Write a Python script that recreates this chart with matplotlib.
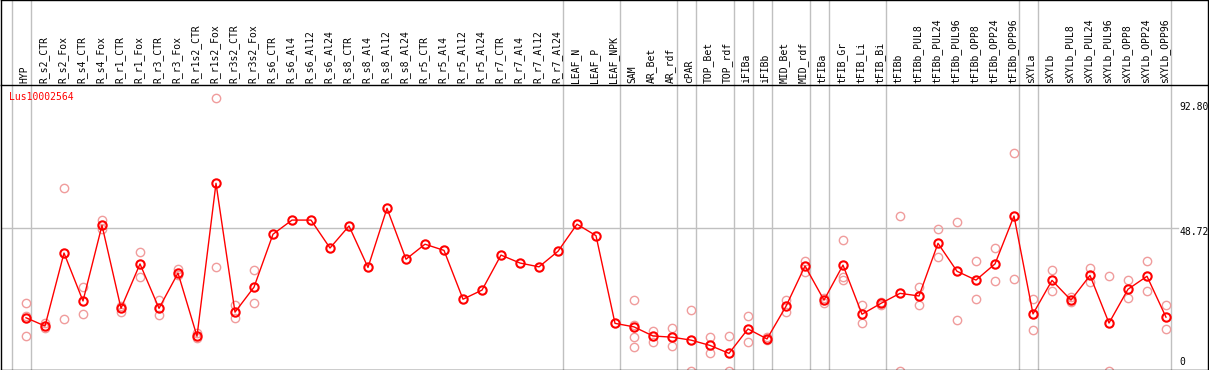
"""
Профиль экспрессии одного гена по образцам (точки повторов + среднее).
"""

import matplotlib

matplotlib.use("Agg")
import matplotlib.pyplot as plt

# Образцы (подписи колонок)
samples = [
    "HYP", "R_s2_CTR", "R_s2_Fox", "R_s4_CTR", "R_s4_Fox", "R_r1_CTR", "R_r1_Fox",
    "R_r3_CTR", "R_r3_Fox", "R_r1s2_CTR", "R_r1s2_Fox", "R_r3s2_CTR", "R_r3s2_Fox",
    "R_s6_CTR", "R_s6_Al4", "R_s6_Al12", "R_s6_Al24", "R_s8_CTR", "R_s8_Al4",
    "R_s8_Al12", "R_s8_Al24", "R_r5_CTR", "R_r5_Al4", "R_r5_Al12", "R_r5_Al24",
    "R_r7_CTR", "R_r7_Al4", "R_r7_Al12", "R_r7_Al24", "LEAF_N", "LEAF_P", "LEAF_NPK",
    "SAM", "AR_Bet", "AR_rdf", "cPAR", "TOP_Bet", "TOP_rdf", "iFIBa", "iFIBb",
    "MID_Bet", "MID_rdf", "tFIBa", "tFIB_Gr", "tFIB_Li", "tFIB_Bi", "tFIBb",
    "tFIBb_PUL8", "tFIBb_PUL24", "tFIBb_PUL96", "tFIBb_OPP8", "tFIBb_OPP24",
    "tFIBb_OPP96", "sXYLa", "sXYLb", "sXYLb_PUL8", "sXYLb_PUL24", "sXYLb_PUL96",
    "sXYLb_OPP8", "sXYLb_OPP24", "sXYLb_OPP96",
]

# Среднее значение экспрессии
expression = [
    18.2, 15.4, 40.2, 23.9, 49.6, 21.4, 36.5, 21.4, 33.4, 11.9, 63.9, 20.1, 28.6,
    46.6, 51.4, 51.4, 41.9, 49.4, 35.3, 55.4, 38.1, 43.2, 41.1, 24.5, 27.6,
    39.5, 36.8, 35.5, 40.8, 50.0, 46.1, 16.3,
    15.1, 12.0, 11.6, 10.6, 8.8, 6.1, 14.4, 11.0, 22.1, 35.8, 24.2, 36.1, 19.4,
    23.1, 26.5, 25.6, 43.5, 34.0, 31.0, 36.5, 52.8, 19.5, 30.9, 24.2, 32.6,
    16.4, 27.9, 32.3, 18.4,
]

# Значения отдельных повторов
replicates = [
    [23.1, 18.8, 12.0], [16.3, 14.6], [62.3, 17.8], [28.6, 19.4], [51.4, 48.4],
    [22.2, 20.3], [40.4, 32.0], [24.2, 19.0], [34.9, 32.6], [12.9, 11.2],
    [92.8, 35.3], [22.5, 18.0], [34.3, 23.1],
    [], [], [], [], [], [], [], [], [], [], [], [], [], [], [], [], [], [], [],
    [24.2, 15.7, 11.7, 8.3], [13.8, 9.9], [14.6, 8.6], [20.8, 0.0], [11.7, 6.1],
    [12.0, 0.0], [18.7, 9.9], [11.8, 10.6], [24.2, 20.3], [37.5, 33.9],
    [24.8, 23.3], [44.6, 32.2, 31.0], [22.5, 16.4], [23.7, 22.5], [52.8, 0.0],
    [28.6, 22.4], [48.3, 38.7], [50.6, 17.4], [37.4, 24.6], [41.9, 30.7],
    [74.2, 31.3], [24.6, 14.0], [34.4, 27.3], [25.2, 23.7], [35.1, 30.3],
    [32.3, 0.0], [31.0, 24.8], [37.4, 27.3], [22.4, 14.4],
]

# Последние колонки групп (после них вертикальные разделители)
group_ends = [-1, 0, 28, 31, 34, 35, 37, 38, 39, 41, 42, 45, 52, 53, 60]

gene_id = "Lus10002564"
y_marks = [92.80, 48.72, 0.0]
y_mark_labels = ["92.80", "48.72", "0"]

# Геометрия картинки в пикселях
W, H = 1209, 370
HEADER_PX = 85.0
LEFT_PX, RIGHT_PX, BOTTOM_PX = 1.0, 1208.0, 369.5
COL0_PX, COL_STEP_PX = 26.0, 19.0
ZERO_PX, PX_PER_UNIT = 371.3, 2.942

MONO = "DejaVu Sans Mono"
GRID = "#c0c0c0"


def px_to_col(px: float) -> float:
    """Пиксель по x -> координата колонки."""
    return (px - COL0_PX) / COL_STEP_PX


def py_to_val(py: float) -> float:
    """Пиксель по y -> значение экспрессии."""
    return (ZERO_PX - py) / PX_PER_UNIT


fig = plt.figure(figsize=(W / 100, H / 100), dpi=100)
ax_head = fig.add_axes(
    [LEFT_PX / W, 1 - HEADER_PX / H, (RIGHT_PX - LEFT_PX) / W, HEADER_PX / H]
)
ax = fig.add_axes(
    [LEFT_PX / W, (H - BOTTOM_PX) / H, (RIGHT_PX - LEFT_PX) / W, (BOTTOM_PX - HEADER_PX) / H]
)

xlim = (px_to_col(LEFT_PX), px_to_col(RIGHT_PX))
for a in (ax, ax_head):
    a.set_xlim(*xlim)
    a.set_xticks([])
    a.set_yticks([])
    for s in a.spines.values():
        s.set_color("black")
        s.set_linewidth(1.0)
ax_head.set_ylim(0, 1)
ax_head.spines["bottom"].set_visible(False)
ax.set_ylim(py_to_val(BOTTOM_PX), py_to_val(HEADER_PX))

# Разделители групп
for c in group_ends:
    for a in (ax, ax_head):
        a.axvline(c + 0.24, color=GRID, lw=1.0, zorder=0)

# Горизонтальная линия на среднем уровне
ax.axhline(y_marks[1], xmax=(1178 - LEFT_PX) / (RIGHT_PX - LEFT_PX), color=GRID, lw=1.0, zorder=0)

# Подписи образцов
for i, name in enumerate(samples):
    ax_head.text(
        i - 0.08,
        (HEADER_PX - 83.3) / HEADER_PX,
        name,
        rotation=90,
        ha="center",
        va="bottom",
        fontsize=7,
        family=MONO,
    )

# Повторы
rep_x = [i for i, reps in enumerate(replicates) for _ in reps]
rep_y = [v for reps in replicates for v in reps]
ax.plot(
    rep_x, rep_y, linestyle="none", marker="o", ms=6, mfc="none",
    mec="#f09c9c", mew=1.0, zorder=2,
)

# Среднее
ax.plot(
    range(len(samples)), expression, color="red", lw=1.0, marker="o", ms=6,
    mfc="none", mec="red", mew=1.5, zorder=3,
)

ax.text(
    px_to_col(9.3), py_to_val(96.7), gene_id, color="red",
    ha="left", va="center", fontsize=7, family=MONO,
)

# Подписи шкалы справа
label_shift = [-8.4, -3.7, 9.3]
for val, lab, dy in zip(y_marks, y_mark_labels, label_shift):
    ax.annotate(
        lab,
        xy=(px_to_col(1179), val),
        xytext=(0, dy),
        textcoords="offset pixels",
        ha="left",
        va="center",
        fontsize=7,
        family=MONO,
        annotation_clip=False,
    )

fig.savefig("out.png", dpi=100)
plt.close(fig)
